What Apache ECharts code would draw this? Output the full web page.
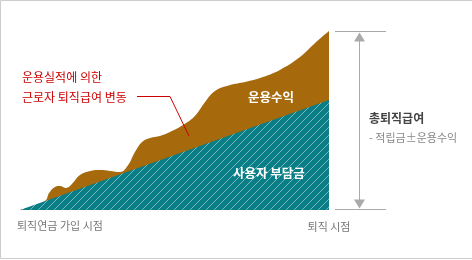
<!DOCTYPE html>
<html><head><meta charset="utf-8">
<script src="https://cdn.jsdelivr.net/npm/echarts@6/dist/echarts.min.js"></script>
<style>html,body{margin:0;padding:0;background:#fff}#c{width:472px;height:260px}</style>
</head><body><div id="c"></div>
<script>
// progress along the membership period (0 = joining, 100 = retirement)
const totalX = [0, 8.1, 9.4, 11.3, 12.9, 14.9, 16.8, 19.4, 22.7, 25.9, 29.1, 32.4, 35.0, 37.2, 39.5, 42.1, 45.3, 48.5, 52.8, 56.6, 59.9, 63.1, 68.0, 72.8, 77.7, 84.1, 90.6, 95.5, 100];
// total retirement benefit (employer contribution + investment return)
const totalValues = [0, 5.0, 9.4, 12.8, 13.3, 12.2, 14.4, 19.4, 21.7, 22.2, 21.7, 21.1, 25, 32.2, 37.8, 40, 41.1, 43.3, 47.2, 52.2, 60, 66.1, 69.4, 71.1, 73.3, 77.8, 85, 92.8, 99.4];
// employer contribution (linear)
const contribX = [0, 100];
const contribValues = [0, 61.1];
const axisLabels = ['퇴직연금 가입 시점', '퇴직 시점'];
const noteLines = ['운용실적에 의한', '근로자 퇴직급여 변동'];
const areaNames = ['운용수익', '사용자 부담금'];
const totalTitle = '총퇴직급여';
const totalSub = '- 적립금±운용수익';

const TEAL = '#0a7e86', BROWN = '#a66a0d', FONT = '"Noto Sans CJK KR", "Noto Sans", sans-serif';

function hatch() {
  const s = 8;
  const c = document.createElement('canvas'); c.width = s; c.height = s;
  const g = c.getContext('2d');
  g.fillStyle = TEAL; g.fillRect(0, 0, s, s);
  g.strokeStyle = 'rgba(255,255,255,0.45)'; g.lineWidth = 1;
  g.beginPath();
  g.moveTo(-1, s + 1); g.lineTo(s + 1, -1);
  g.moveTo(-1, 1); g.lineTo(1, -1);
  g.moveTo(s - 1, s + 1); g.lineTo(s + 1, s - 1);
  g.stroke();
  return c;
}

const chart = echarts.init(document.getElementById('c'), null, {renderer: 'canvas'});
chart.setOption({
  animation: false,
  grid: {left: 20, right: 143, top: 30, bottom: 50, containLabel: false},
  xAxis: {type: 'value', min: 0, max: 100, show: false},
  yAxis: {type: 'value', min: 0, max: 100, show: false},
  series: [
    {type: 'line', data: totalX.map((x, i) => [x, totalValues[i]]), smooth: 0.4, symbol: 'none',
     lineStyle: {width: 0}, areaStyle: {color: BROWN, opacity: 1}, z: 1, silent: true},
    {type: 'line', data: contribX.map((x, i) => [x, contribValues[i]]), symbol: 'none',
     lineStyle: {width: 0}, areaStyle: {color: {image: hatch(), repeat: 'repeat'}, opacity: 1}, z: 2, silent: true}
  ]
});

const pTop = chart.convertToPixel({seriesIndex: 0}, [100, totalValues[totalValues.length - 1]]);
const pBase = chart.convertToPixel({seriesIndex: 0}, [100, 0]);
const pStart = chart.convertToPixel({seriesIndex: 0}, [0, 0]);
const rx = pBase[0], topY = Math.round(pTop[1]) + 0.5, baseY = Math.round(pBase[1]) - 0.5;
const ax = Math.round(rx) + 30.5;
const GRAY = '#aaaaaa';

chart.setOption({
  graphic: [
    {type: 'polyline', z: 100, shape: {points: [[472, 0.5], [0.5, 0.5], [0.5, 258.5], [472, 258.5]]}, style: {stroke: '#cccccc', fill: null, lineWidth: 1}},
    {type: 'line', z: 100, shape: {x1: rx + 6, y1: topY, x2: rx + 57, y2: topY}, style: {stroke: GRAY, lineWidth: 1}},
    {type: 'line', z: 100, shape: {x1: rx + 6, y1: baseY, x2: rx + 57, y2: baseY}, style: {stroke: GRAY, lineWidth: 1}},
    {type: 'line', z: 100, shape: {x1: ax, y1: topY + 4, x2: ax, y2: baseY - 4}, style: {stroke: GRAY, lineWidth: 1}},
    {type: 'polygon', z: 100, shape: {points: [[ax, topY + 1], [ax - 5.5, topY + 10], [ax + 5.5, topY + 10]]}, style: {fill: GRAY}},
    {type: 'polygon', z: 100, shape: {points: [[ax, baseY - 1], [ax - 5.5, baseY - 10], [ax + 5.5, baseY - 10]]}, style: {fill: GRAY}},
    {type: 'text', z: 100, x: 369, y: 118, style: {text: totalTitle, font: 'bold 12px ' + FONT, fill: '#444444', verticalAlign: 'middle'}},
    {type: 'text', z: 100, x: 369, y: 138, style: {text: totalSub, font: '11px ' + FONT, fill: '#888888', verticalAlign: 'middle'}},
    {type: 'text', z: 100, x: pStart[0] - 3, y: 226, style: {text: axisLabels[0], font: '11px ' + FONT, fill: '#777777', verticalAlign: 'middle'}},
    {type: 'text', z: 100, x: rx, y: 227, style: {text: axisLabels[1], font: '11px ' + FONT, fill: '#777777', verticalAlign: 'middle', align: 'center'}},
    {type: 'text', z: 100, x: 22, y: 77, style: {text: noteLines[0], font: '12px ' + FONT, fill: '#cc0000', verticalAlign: 'middle'}},
    {type: 'text', z: 100, x: 22, y: 97, style: {text: noteLines[1], font: '12px ' + FONT, fill: '#cc0000', verticalAlign: 'middle'}},
    {type: 'polyline', z: 100, shape: {points: [[137, 96.5], [170, 96.5], [189, 136]]}, style: {stroke: '#cc0000', fill: null, lineWidth: 1}},
    {type: 'text', z: 100, x: 248, y: 97, style: {text: areaNames[0], font: 'bold 12.5px ' + FONT, fill: '#ffffff', verticalAlign: 'middle'}},
    {type: 'text', z: 100, x: 233, y: 173, style: {text: areaNames[1], font: 'bold 12.5px ' + FONT, fill: '#ffffff', verticalAlign: 'middle'}}
  ]
});
</script></body></html>
